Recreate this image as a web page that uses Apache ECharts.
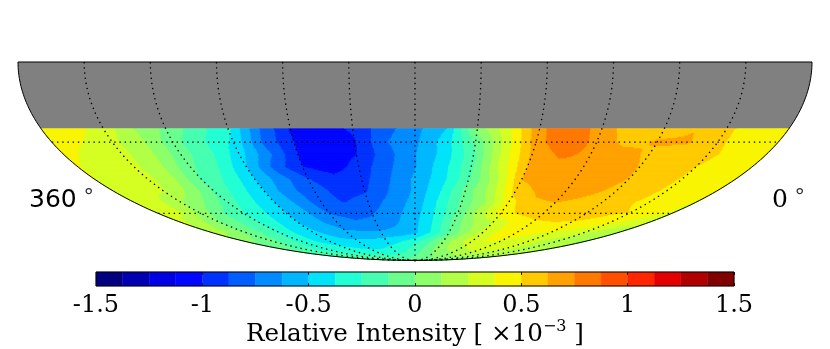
<!DOCTYPE html>
<html>
<head>
<meta charset="utf-8">
<style>html,body{margin:0;padding:0;background:#fff}#c{width:830px;height:349px}</style>
<script src="https://cdn.jsdelivr.net/npm/echarts@6/dist/echarts.min.js"></script>
</head>
<body>
<div id="c"></div>
<script>
// Right ascension of each column, left to right (deg)
const raColumns = [360,345,330,315,300,285,270,255,240,225,210,195,180,165,150,135,120,105,90,75,60,45,30,15,0];
// Declination of each row (deg)
const decRows = [-25,-30,-35,-40,-45,-50,-55,-60,-65,-70,-75,-80,-85,-90];
// Relative intensity (x 10^-3), one list per declination
const dec25 = [.42,.42,.32,.12,-.03,-.2,-.35,-.75,-1.02,-1.05,-.98,-.8,-.66,-.5,.05,.35,.72,.86,.68,.56,.56,.62,.52,.45,.42];
const dec30 = [.44,.38,.28,.14,-.08,-.24,-.4,-.78,-1.0,-1.13,-1.01,-.76,-.65,-.44,-.1,.3,.7,.86,.71,.58,.64,.64,.52,.44,.4];
const dec35 = [.42,.33,.29,.15,-.07,-.22,-.45,-.72,-1.0,-1.07,-1.0,-.8,-.63,-.45,-.15,.3,.65,.78,.72,.68,.6,.57,.53,.45,.4];
const dec40 = [.38,.3,.28,.13,-.1,-.25,-.5,-.8,-1.0,-1.06,-.95,-.78,-.63,-.42,-.15,.28,.63,.7,.72,.7,.62,.56,.5,.42,.38];
const dec45 = [.38,.3,.29,.13,-.14,-.28,-.5,-.7,-.87,-.96,-.92,-.76,-.6,-.42,-.15,.2,.63,.7,.72,.68,.62,.56,.49,.42,.38];
const dec50 = [.3,.3,.26,.1,-.14,-.32,-.5,-.72,-.82,-.92,-.89,-.74,-.6,-.38,-.08,.18,.55,.66,.7,.65,.6,.55,.48,.42,.38];
const dec55 = [.3,.28,.14,0,-.19,-.35,-.5,-.66,-.83,-.88,-.82,-.7,-.58,-.35,-.1,.13,.45,.6,.63,.6,.57,.52,.47,.41,.37];
const dec60 = [.3,.28,.08,-.12,-.25,-.37,-.5,-.62,-.76,-.8,-.76,-.67,-.55,-.35,-.1,.2,.45,.53,.57,.58,.55,.52,.5,.43,.35];
const dec65 = [.28,.15,-.02,-.13,-.26,-.38,-.5,-.6,-.68,-.73,-.72,-.64,-.53,-.35,-.07,.12,.25,.4,.47,.49,.49,.47,.4,.33,.27];
const dec70 = [.2,.1,-.03,-.15,-.28,-.4,-.48,-.54,-.6,-.6,-.6,-.58,-.52,-.35,-.12,.1,.3,.4,.45,.4,.36,.3,.28,.2,.16];
const dec75 = [.03,-.03,-.1,-.2,-.3,-.38,-.43,-.47,-.47,-.47,-.43,-.38,-.3,-.15,.05,.2,.32,.38,.36,.32,.3,.24,.2,.16,.1];
const dec80 = [-.1,-.14,-.2,-.27,-.3,-.32,-.34,-.36,-.38,-.37,-.33,-.28,-.2,-.08,.05,.14,.2,.27,.3,.3,.27,.24,.2,.18,.15];
const dec85 = [-.15,-.15,-.17,-.18,-.2,-.21,-.22,-.23,-.24,-.24,-.22,-.18,-.13,-.08,-.03,.02,.06,.1,.13,.15,.16,.16,.15,.14,.13];
const dec90 = [-.05,-.05,-.05,-.05,-.05,-.05,-.05,-.05,-.05,-.05,-.05,-.05,-.05,-.05,-.05,-.05,-.05,-.05,-.05,-.05,-.05,-.05,-.05,-.05,-.05];
const intensity = [dec25,dec30,dec35,dec40,dec45,dec50,dec55,dec60,dec65,dec70,dec75,dec80,dec85,dec90];

const colorbarTicks = [-1.5,-1,-0.5,0,0.5,1,1.5];
const levelCount = 24;
const skyEdgeDec = -24.6;
const meridians = [30,60,90,120,150,180,210,240,270,300,330];
const parallels = [-30,-60];

// matplotlib "jet"
function ramp(pts,v){for(let i=1;i<pts.length;i++){if(v<=pts[i][0]){const a=pts[i-1],b=pts[i];return a[1]+(b[1]-a[1])*(v-a[0])/(b[0]-a[0]);}}return pts[pts.length-1][1];}
const R=[[0,0],[.35,0],[.66,1],[.89,1],[1,.5]],G=[[0,0],[.125,0],[.375,1],[.64,1],[.91,0],[1,0]],B=[[0,.5],[.11,1],[.34,1],[.65,0],[1,0]];
const palette=[];for(let i=0;i<levelCount;i++){const v=i/(levelCount-1);palette.push('rgb('+[R,G,B].map(c=>Math.round(255*ramp(c,v))).join(',')+')');}

// Mollweide projection, RA increasing to the left
function project(ra,dec){
  const target=Math.PI*Math.sin(dec*Math.PI/180);
  let lo=-Math.PI/2,hi=Math.PI/2;
  for(let i=0;i<40;i++){const m=(lo+hi)/2;if(2*m+Math.sin(2*m)<target)lo=m;else hi=m;}
  const t=(lo+hi)/2;
  return [2*Math.SQRT2/Math.PI*((180-ra)*Math.PI/180)*Math.cos(t),Math.SQRT2*Math.sin(t)];
}
function sample(ra,dec){
  const step=raColumns[0]-raColumns[1];
  let c=(raColumns[0]-ra)/step;c=Math.max(0,Math.min(raColumns.length-1.0001,c));
  let r=(decRows[0]-dec)/(decRows[0]-decRows[1]);r=Math.max(0,Math.min(decRows.length-1.0001,r));
  const ci=Math.floor(c),ri=Math.floor(r),fc=c-ci,fr=r-ri;
  const a=intensity[ri],b=intensity[ri+1];
  return (a[ci]*(1-fc)+a[ci+1]*fc)*(1-fr)+(b[ci]*(1-fc)+b[ci+1]*fc)*fr;
}
function level(v){return Math.max(0,Math.min(levelCount-1,Math.floor((v+1.5)/3*levelCount)));}

// contour bands of the table: runs of equal level along each thin declination strip
const bands=[];
for(let dec=skyEdgeDec;dec>-90;dec-=0.5){
  const d2=Math.max(-90,dec-0.5),dm=(dec+d2)/2;
  let start=0,cur=level(sample(0.25,dm));
  for(let ra=0.5;ra<=360;ra+=0.5){
    const l=ra<360?level(sample(ra+0.25,dm)):-1;
    if(l!==cur){bands.push([start,ra,dec,d2,cur]);start=ra;cur=l;}
  }
}
const chart=echarts.init(document.getElementById('c'),null,{renderer:'canvas'});
function pts(api,list){return list.map(p=>{const q=project(p[0],p[1]);return api.coord(q);});}
function ringPoints(top,bottom){
  const out=[];
  for(let d=top;d>bottom;d-=1)out.push([0,d]);
  out.push([0,bottom],[360,bottom]);
  for(let d=Math.ceil(bottom);d<top;d+=1)if(d>bottom)out.push([360,d]);
  out.push([360,top]);
  return out;
}
const serif='"DejaVu Serif"';
const option={
  animation:false,
  backgroundColor:'#fff',
  grid:[{left:18,top:62,width:794,height:198.5,containLabel:false},{left:96,top:272,width:638,height:14}],
  xAxis:[
    {gridIndex:0,type:'value',min:-2*Math.SQRT2,max:2*Math.SQRT2,show:false},
    {gridIndex:1,type:'value',min:-1.5,max:1.5,interval:.5,position:'bottom',z:5,
      axisLine:{show:false},splitLine:{show:false},
      axisTick:{show:true,inside:true,length:3,lineStyle:{color:'#222',width:1}},
      axisLabel:{show:true,margin:8,fontFamily:serif,fontSize:24,color:'#000',hideOverlap:false,showMinLabel:true,showMaxLabel:true,formatter:v=>String(v)},
      name:'{a|Relative Intensity [ ×10}{s|−3}{a| ]}',nameLocation:'middle',nameGap:33,
      nameTextStyle:{rich:{a:{fontFamily:serif,fontSize:24.6,color:'#000',verticalAlign:'bottom',lineHeight:28},s:{fontFamily:serif,fontSize:16,color:'#000',verticalAlign:'top',lineHeight:28}}}},
    {gridIndex:1,type:'value',min:-1.5,max:1.5,interval:.5,position:'top',z:5,
      axisLine:{show:false},splitLine:{show:false},axisLabel:{show:false},
      axisTick:{show:true,inside:true,length:3,lineStyle:{color:'#222',width:1}}}
  ],
  yAxis:[
    {gridIndex:0,type:'value',min:-Math.SQRT2,max:0,show:false},
    {gridIndex:1,type:'value',min:0,max:1,show:false}
  ],
  graphic:[
    {type:'text',left:29,top:188,style:{text:'{n|360}{d| °}',rich:{n:{fontFamily:'"DejaVu Sans"',fontSize:25,fill:'#000'},d:{fontFamily:'"DejaVu Sans"',fontSize:21,fill:'#333',verticalAlign:'top'}}}},
    {type:'text',left:772,top:188,style:{text:'{n|0}{d| °}',rich:{n:{fontFamily:serif,fontSize:25,fill:'#000'},d:{fontFamily:'"DejaVu Sans"',fontSize:21,fill:'#333',verticalAlign:'top'}}}}
  ],
  series:[
    {type:'custom',name:'sky',coordinateSystem:'cartesian2d',xAxisIndex:0,yAxisIndex:0,silent:true,clip:false,progressive:0,
      data:bands,
      renderItem:(p,api)=>{
        const a=api.value(0),b=api.value(1),c=api.value(2),d=api.value(3),col=palette[api.value(4)];
        return {type:'polygon',shape:{points:pts(api,[[a,c],[b,c],[b,d],[a,d]])},style:{fill:col,stroke:col,lineWidth:1}};
      }},
    {type:'custom',name:'unobserved',coordinateSystem:'cartesian2d',xAxisIndex:0,yAxisIndex:0,silent:true,clip:false,z:3,
      data:[[0,skyEdgeDec]],
      renderItem:(p,api)=>({type:'polygon',shape:{points:pts(api,ringPoints(0,api.value(1)))},style:{fill:'#808080'}})},
    {type:'custom',name:'meridians',coordinateSystem:'cartesian2d',xAxisIndex:0,yAxisIndex:0,silent:true,clip:false,z:4,
      data:meridians.map(m=>[m,0]),
      renderItem:(p,api)=>{
        const l=[];const m=api.value(0);for(let d=0;d>=-90;d-=.5)l.push([m,d]);
        return {type:'polyline',shape:{points:pts(api,l)},style:{fill:null,stroke:'#000',lineWidth:1.3,lineDash:[1.4,3.8]}};
      }},
    {type:'custom',name:'parallels',coordinateSystem:'cartesian2d',xAxisIndex:0,yAxisIndex:0,silent:true,clip:false,z:4,
      data:parallels.map(d=>[0,d]),
      renderItem:(p,api)=>({type:'polyline',shape:{points:pts(api,[[360,api.value(1)],[0,api.value(1)]])},style:{fill:null,stroke:'#000',lineWidth:1.3,lineDash:[1.4,3.8]}})},
    {type:'custom',name:'outline',coordinateSystem:'cartesian2d',xAxisIndex:0,yAxisIndex:0,silent:true,clip:false,z:5,
      data:[[0,-90]],
      renderItem:(p,api)=>({type:'polygon',shape:{points:pts(api,ringPoints(0,api.value(1)))},style:{fill:null,stroke:'#000',lineWidth:1}})},
    {type:'custom',name:'colorbar',coordinateSystem:'cartesian2d',xAxisIndex:1,yAxisIndex:1,silent:true,clip:false,
      data:palette.map((c,i)=>[-1.5+3*i/levelCount,-1.5+3*(i+1)/levelCount,i]),
      renderItem:(p,api)=>{
        const a=api.coord([api.value(0),1]),b=api.coord([api.value(1),0]),col=palette[api.value(2)];
        return {type:'rect',shape:{x:a[0],y:a[1],width:b[0]-a[0],height:b[1]-a[1]},style:{fill:col,stroke:col,lineWidth:.4}};
      }},
    {type:'custom',name:'colorbar frame',coordinateSystem:'cartesian2d',xAxisIndex:1,yAxisIndex:1,silent:true,clip:false,z:6,
      data:[[colorbarTicks[0],colorbarTicks[colorbarTicks.length-1]]],
      renderItem:(p,api)=>{
        const a=api.coord([api.value(0),1]),b=api.coord([api.value(1),0]);
        return {type:'rect',shape:{x:a[0],y:a[1],width:b[0]-a[0],height:b[1]-a[1]},style:{fill:null,stroke:'#000',lineWidth:1}};
      }}
  ]
};
chart.setOption(option);
</script>
</body>
</html>
